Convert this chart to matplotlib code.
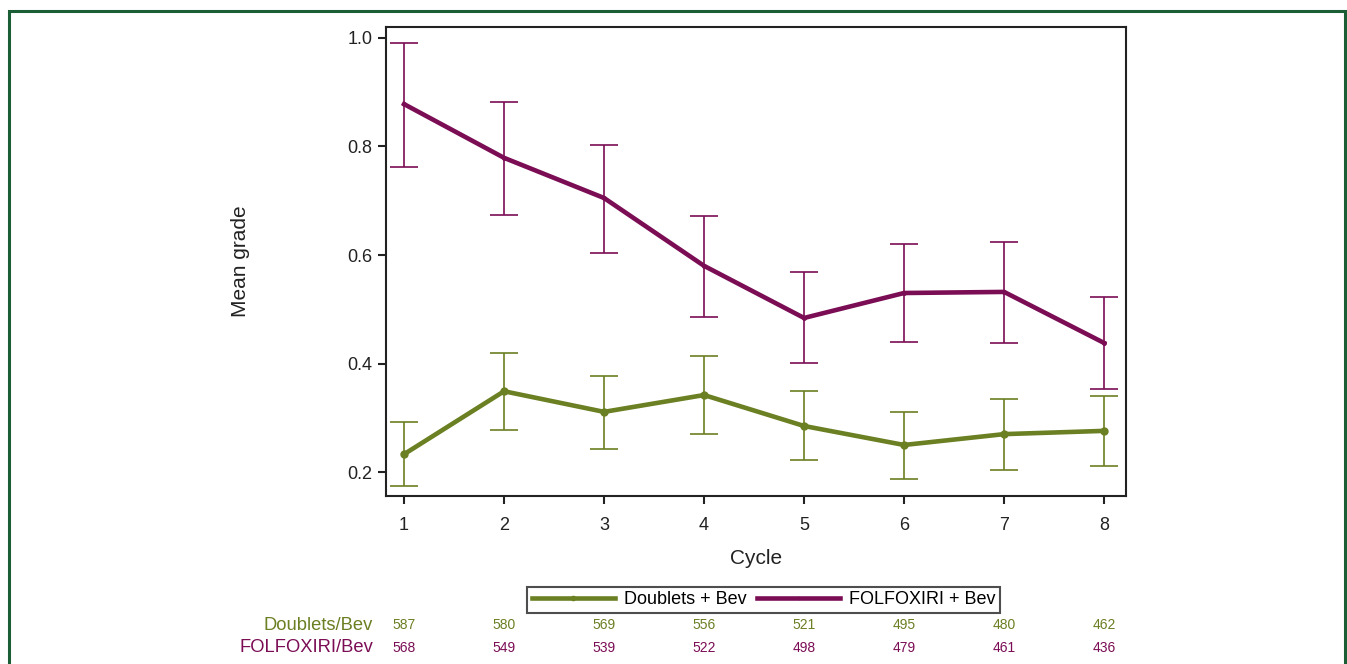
import matplotlib
matplotlib.use('Agg')
import matplotlib.pyplot as plt
import matplotlib.transforms as mtransforms
from matplotlib.patches import Rectangle

plt.rcParams['font.family'] = ['Liberation Sans', 'DejaVu Sans']

cycles = [1, 2, 3, 4, 5, 6, 7, 8]

folf_mean = [0.878, 0.779, 0.705, 0.580, 0.484, 0.530, 0.532, 0.438]
folf_upper = [0.991, 0.882, 0.803, 0.672, 0.569, 0.620, 0.624, 0.523]
folf_lower = [0.762, 0.674, 0.604, 0.486, 0.401, 0.440, 0.438, 0.353]

doub_mean = [0.233, 0.349, 0.311, 0.342, 0.285, 0.250, 0.270, 0.276]
doub_upper = [0.292, 0.419, 0.377, 0.414, 0.349, 0.311, 0.335, 0.340]
doub_lower = [0.174, 0.277, 0.242, 0.270, 0.222, 0.187, 0.204, 0.211]

doub_n = [587, 580, 569, 556, 521, 495, 480, 462]
folf_n = [568, 549, 539, 522, 498, 479, 461, 436]

green = '#6b7f23'
purple = '#7b0d55'
dark = '#222222'

fig = plt.figure(figsize=(13.47, 6.64), dpi=100)
ax = fig.add_axes([0.2866, 0.253, 0.5494, 0.7063])


def draw(mean, lo, hi, color, label, marker):
    yerr = [[m - l for m, l in zip(mean, lo)], [h - m for m, h in zip(mean, hi)]]
    ax.errorbar(cycles, mean, yerr=yerr, fmt='none', ecolor=color,
                elinewidth=1.2, capsize=10, capthick=1.2, zorder=2)
    ax.plot(cycles, mean, color=color, lw=3.3, marker=marker, ms=5,
            mfc=color, mec=color, label=label, zorder=3)


draw(doub_mean, doub_lower, doub_upper, green, 'Doublets + Bev', 'o')
draw(folf_mean, folf_lower, folf_upper, purple, 'FOLFOXIRI + Bev', '.')

ax.set_xlim(0.82, 8.22)
ax.set_ylim(0.156, 1.020)
ax.set_xticks(cycles)
ax.set_yticks([0.2, 0.4, 0.6, 0.8, 1.0])
ax.set_yticklabels(['0.2', '0.4', '0.6', '0.8', '1.0'])
ax.tick_params(direction='out', length=6, width=1.5, labelsize=13, colors=dark)
ax.tick_params(axis='x', pad=9)
ax.tick_params(axis='y', pad=4)
for s in ax.spines.values():
    s.set_linewidth(1.5)
    s.set_color(dark)

ax.set_xlabel('Cycle', fontsize=15, color=dark)
ax.xaxis.set_label_coords(0.5, -0.113)
ax.set_ylabel('Mean grade', fontsize=15, color=dark)
ax.yaxis.set_label_coords(-0.184, 0.5)

leg = fig.legend(loc='center', bbox_to_anchor=(0.567, 0.0964), ncol=2,
                 fontsize=13, frameon=True, fancybox=False, handlelength=4.6,
                 columnspacing=0.6, handletextpad=0.5, borderpad=0.25,
                 edgecolor=dark, markerscale=0.6)
leg.get_frame().set_linewidth(1.5)

trans = mtransforms.blended_transform_factory(ax.transData, fig.transFigure)
for x, a, b in zip(cycles, doub_n, folf_n):
    ax.text(x, 0.0587, str(a), transform=trans, ha='center', va='center',
            fontsize=10, color=green)
    ax.text(x, 0.0241, str(b), transform=trans, ha='center', va='center',
            fontsize=10, color=purple)
fig.text(0.2769, 0.0587, 'Doublets/Bev', ha='right', va='center', fontsize=13.2, color=green)
fig.text(0.2769, 0.0241, 'FOLFOXIRI/Bev', ha='right', va='center', fontsize=13.2, color=purple)

# outer green frame
fig.patches.append(Rectangle((9 / 1347, -0.05), 1336 / 1347, 1 - 11 / 664 + 0.05,
                             transform=fig.transFigure, fill=False,
                             edgecolor='#1b5e35', lw=2.2, zorder=0))

fig.savefig('out.png', dpi=100)
